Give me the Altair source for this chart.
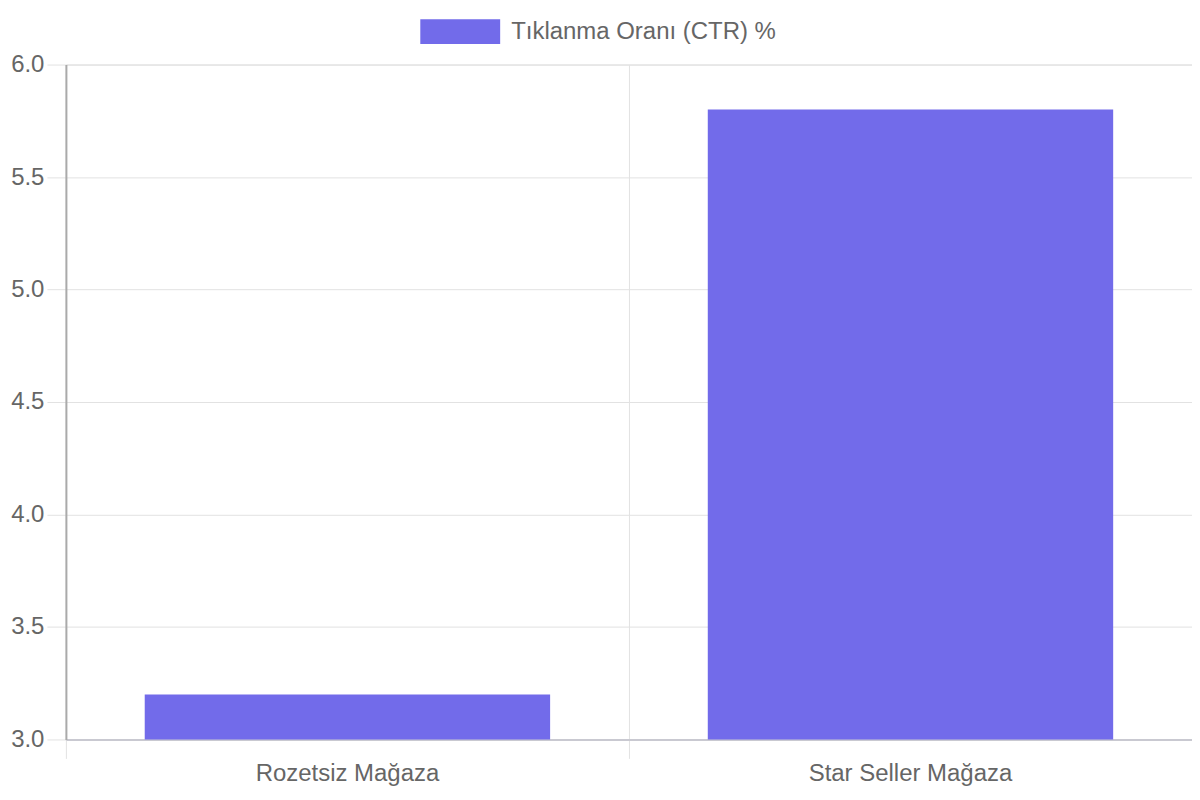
import altair as alt
import pandas as pd

categories = ["Rozetsiz Mağaza", "Star Seller Mağaza"]
ctr_values = [3.2, 5.8]
series_name = "Tıklanma Oranı (CTR) %"
y_ticks = [3.0, 3.5, 4.0, 4.5, 5.0, 5.5, 6.0]

df = pd.DataFrame({"store": categories, "ctr": ctr_values, "series": [series_name] * len(categories)})
df["base"] = 3.0

FONT = "Liberation Sans"
BAR = "#726BEA"
GRID = "#e2e2e2"
FS = 24

yscale = alt.Scale(domain=[3, 6], nice=False, zero=False)

bars = alt.Chart(df).mark_bar(color=BAR).encode(
    x=alt.X("store:N", sort=categories, scale=alt.Scale(paddingInner=0.28, paddingOuter=0.14),
            title=None,
            axis=alt.Axis(orient="bottom", labelAngle=0, ticks=False, tickSize=0, grid=False,
                          domainColor="#c9c9d1", domainWidth=2, labelFontSize=FS,
                          labelFont=FONT, labelColor="#666666", labelPadding=22,
                          labelLimit=600)),
    y=alt.Y("ctr:Q", scale=yscale, title=None,
            axis=alt.Axis(values=y_ticks, format=".1f", grid=True, gridColor=GRID,
                          tickColor=GRID, tickSize=19, labelPadding=3,
                          domainColor="#aaaaaa", domainWidth=2, labelFontSize=FS,
                          labelFont=FONT, labelColor="#666666")),
    y2="base:Q",
    color=alt.Color("series:N", scale=alt.Scale(range=[BAR]), title=None,
                    legend=alt.Legend(orient="none", legendX=355, legendY=-73,
                                      symbolType="M-1,-0.31L1,-0.31L1,0.31L-1,0.31Z",
                                      symbolSize=6400, symbolStrokeWidth=0,
                                      symbolOpacity=1, labelFontSize=FS, labelFont=FONT,
                                      labelColor="#666666", labelOffset=11,
                                      labelLimit=600)),
)

grid_layer = alt.Chart(df).mark_bar(opacity=0).encode(
    x=alt.X("store:N", sort=categories, scale=alt.Scale(paddingInner=0, paddingOuter=0),
            title=None,
            axis=alt.Axis(orient="bottom", bandPosition=0, labels=False, domain=False,
                          grid=True, gridColor=GRID, ticks=True, tickColor=GRID,
                          tickSize=19)),
    y=alt.Y("ctr:Q", scale=yscale),
    y2="base:Q",
)

chart = alt.layer(grid_layer, bars).resolve_scale(x="independent").resolve_axis(
    x="independent"
).properties(
    width=1128, height=676,
    autosize=alt.AutoSizeParams(type="none"),
    padding={"left": 58, "top": 56, "right": 0, "bottom": 52},
).configure_view(stroke=GRID).configure(background="white")

chart.save("out.html", embed_options={"renderer": "svg", "actions": False})
